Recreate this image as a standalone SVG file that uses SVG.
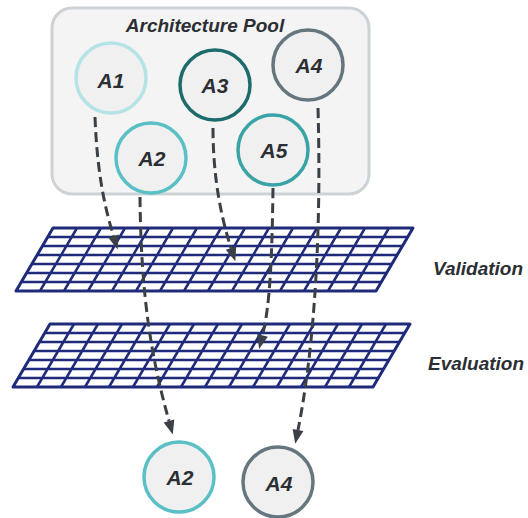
<svg xmlns="http://www.w3.org/2000/svg" width="528" height="518" viewBox="0 0 528 518">
  <style>
    .node circle { fill: #f0f0f0; stroke-width: 3.5; }
    .lbl { font-family: "Liberation Sans", Arial, sans-serif; font-weight: bold; font-style: italic; fill: #2b2f33; }
    .node text { font-size: 21px; text-anchor: middle; }
    .stage { font-size: 19px; }
    .grid-cells { fill: #ffffff; stroke: #1f2b7a; stroke-width: 3; stroke-linejoin: round; }
    .grid-lines { fill: none; stroke: #1f2b7a; stroke-width: 2.5; }
    .flow { fill: none; stroke: #3a4046; stroke-width: 3; stroke-dasharray: 10 5; marker-end: url(#head); }
  </style>
  <defs>
    <marker id="head" markerUnits="userSpaceOnUse" viewBox="0 -6 14 12" markerWidth="14" markerHeight="12" refX="0" refY="0" orient="auto" overflow="visible">
      <path d="M0,-5.5 L14,0 L0,5.5 z" fill="#3a4046"/>
    </marker>
    <!-- 15 x 7 slanted grid, drawn with its top-left corner at (37,0) -->
    <g id="grid">
      <polygon class="grid-cells" points="37,0 397,0 360,63 0,63"/>
      <path class="grid-lines" d="M31.71,9H391.71M26.43,18H386.43M21.14,27H381.14M15.86,36H375.86M10.57,45H370.57M5.29,54H365.29
        M61,0L24,63M85,0L48,63M109,0L72,63M133,0L96,63M157,0L120,63M181,0L144,63M205,0L168,63
        M229,0L192,63M253,0L216,63M277,0L240,63M301,0L264,63M325,0L288,63M349,0L312,63M373,0L336,63"/>
    </g>
  </defs>

  <!-- architecture pool -->
  <g id="pool">
    <rect x="52" y="8" width="317" height="186" rx="20" fill="#f4f4f4" stroke="#cdd2d7" stroke-width="3"/>
    <text class="lbl" x="205" y="32" font-size="19" text-anchor="middle">Architecture Pool</text>
  </g>

  <g id="a1" class="node">
    <circle cx="111" cy="78" r="35" stroke="#b4e3e6"/>
    <text class="lbl" x="111" y="88">A1</text>
  </g>
  <g id="a3" class="node">
    <circle cx="215" cy="85" r="35" stroke="#1e6b6c"/>
    <text class="lbl" x="215" y="93">A3</text>
  </g>
  <g id="a4" class="node">
    <circle cx="308" cy="65" r="35" stroke="#66767f"/>
    <text class="lbl" x="309" y="73">A4</text>
  </g>
  <g id="a2" class="node">
    <circle cx="151" cy="158" r="35" stroke="#5bc0c5"/>
    <text class="lbl" x="152" y="166">A2</text>
  </g>
  <g id="a5" class="node">
    <circle cx="273" cy="150" r="35" stroke="#3aa3a5"/>
    <text class="lbl" x="274" y="158">A5</text>
  </g>

  <!-- stage planes -->
  <g id="validation">
    <use href="#grid" transform="translate(16,228)"/>
    <text class="lbl stage" x="433" y="275">Validation</text>
  </g>
  <g id="evaluation">
    <use href="#grid" transform="translate(13,324)"/>
    <text class="lbl stage" x="428" y="370">Evaluation</text>
  </g>

  <!-- selected architectures -->
  <g id="a2-out" class="node">
    <circle cx="179" cy="477" r="35" stroke="#5bc0c5"/>
    <text class="lbl" x="180" y="485">A2</text>
  </g>
  <g id="a4-out" class="node">
    <circle cx="278" cy="482" r="35" stroke="#66767f"/>
    <text class="lbl" x="279" y="491">A4</text>
  </g>

  <g id="connectors">
    <path class="flow" d="M95,117 C97,170 104,205 113.5,236"/>
    <path class="flow" d="M213,128 C213,180 222,220 231,248"/>
    <path class="flow" d="M140,197 C141,300 152,360 169,421"/>
    <path class="flow" d="M273,188 C272,260 270,305 262.5,335.4"/>
    <path class="flow" d="M318,108 C322,250 312,360 298,430"/>
  </g>
</svg>
